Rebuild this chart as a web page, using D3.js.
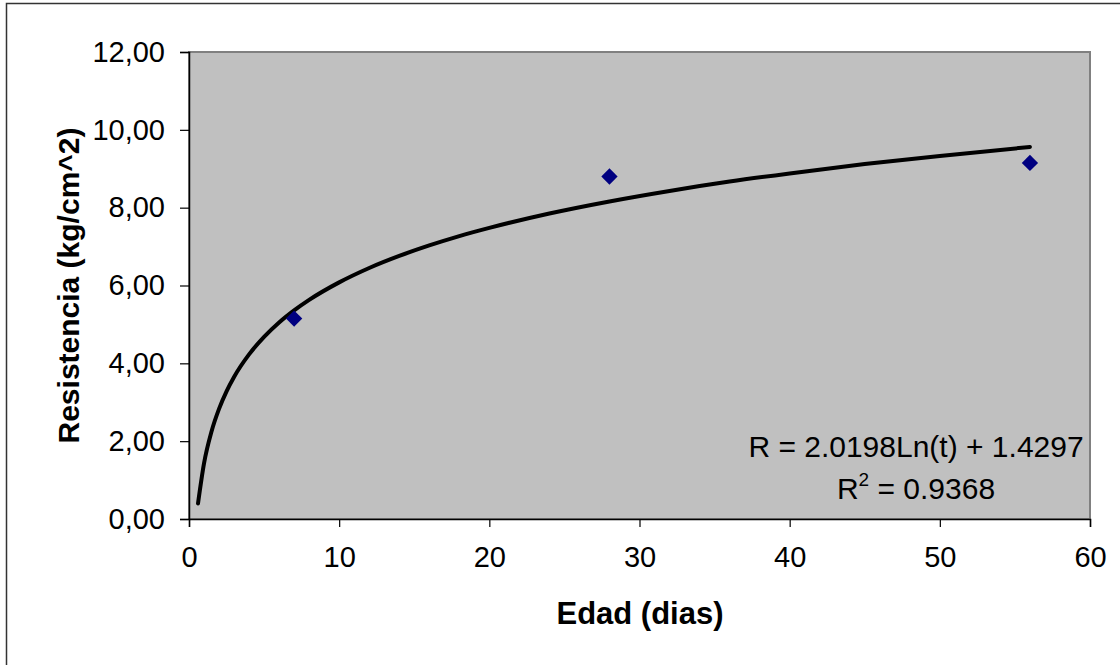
<!DOCTYPE html>
<html><head><meta charset="utf-8">
<script src="https://cdn.jsdelivr.net/npm/d3@7"></script>
<style>html,body{margin:0;padding:0;background:#fff;}svg{display:block;}</style>
</head><body>
<script>
// Observed data (edad en días, resistencia)
const edad = [7, 28, 56];
const resistencia = [5.15, 8.8, 9.15];
// Trendline points (logarithmic trend)
const trendT = [0.6, 1, 1.5, 2, 2.5, 3, 4, 5, 6, 7, 8, 10, 12, 14, 16, 18, 20, 24, 28, 32, 36, 40, 45, 50, 56];
const trendR = [0.40, 1.43, 2.25, 2.83, 3.28, 3.65, 4.23, 4.68, 5.05, 5.36, 5.63, 6.08, 6.45, 6.76, 7.03, 7.27, 7.48, 7.85, 8.16, 8.43, 8.67, 8.88, 9.12, 9.33, 9.56];
const xTicks = [0, 10, 20, 30, 40, 50, 60];
const yTicks = [0, 2, 4, 6, 8, 10, 12];
const yTickLabels = ["0,00", "2,00", "4,00", "6,00", "8,00", "10,00", "12,00"];
const eqLine1 = "R = 2.0198Ln(t) + 1.4297";
const r2Value = "0.9368";

const W = 1120, H = 665;
const L = 189, R = 1090, T = 52, B = 519;
const svg = d3.select("body").append("svg").attr("width", W).attr("height", H)
  .style("font-family", "'Liberation Sans', Arial, sans-serif");

svg.append("rect").attr("x", 6.5).attr("y", 3.5).attr("width", 1200).attr("height", 800)
  .attr("fill", "#fff").attr("stroke", "#333").attr("stroke-width", 1.5);

const x = d3.scaleLinear().domain([0, 60]).range([L, R]);
const y = d3.scaleLinear().domain([0, 12]).range([B, T]);

svg.append("rect").attr("x", L).attr("y", T).attr("width", R - L).attr("height", B - T)
  .attr("fill", "#c0c0c0").attr("stroke", "#808080").attr("stroke-width", 2);

const xAxis = svg.append("g").attr("transform", `translate(0,${B})`)
  .call(d3.axisBottom(x).tickValues(xTicks).tickSize(8).tickPadding(19).tickFormat(d3.format("d")));
const yAxis = svg.append("g").attr("transform", `translate(${L},0)`)
  .call(d3.axisLeft(y).tickValues(yTicks).tickSize(9).tickPadding(15).tickFormat((d, i) => yTickLabels[i]));
[xAxis, yAxis].forEach(a => {
  a.selectAll("path").attr("stroke", "#000").attr("stroke-width", 1.5);
  a.selectAll("line").attr("stroke", "#000").attr("stroke-width", 1.2);
  a.selectAll("text").attr("fill", "#000").style("font-size", "29px")
    .style("font-family", "'Liberation Sans', Arial, sans-serif");
});

const line = d3.line().x((d, i) => x(trendT[i])).y((d, i) => y(trendR[i])).curve(d3.curveMonotoneX);
svg.append("path").datum(trendR).attr("d", line).attr("fill", "none")
  .attr("stroke", "#000").attr("stroke-width", 4).attr("stroke-linecap", "round");

const sym = d3.symbol().type(d3.symbolDiamond2).size(170);
svg.selectAll(".pt").data(edad).enter().append("path")
  .attr("transform", (d, i) => `translate(${x(d)},${y(resistencia[i])})`)
  .attr("d", sym).attr("fill", "#000080");

svg.append("text").attr("x", 916).attr("y", 457).attr("text-anchor", "middle")
  .style("font-size", "30px").text(eqLine1);
const t2 = svg.append("text").attr("x", 916).attr("y", 499).attr("text-anchor", "middle")
  .style("font-size", "30px");
t2.append("tspan").text("R");
t2.append("tspan").attr("dy", -13).style("font-size", "19px").text("2");
t2.append("tspan").attr("dy", 13).text(" = " + r2Value);

svg.append("text").attr("x", 640).attr("y", 624).attr("text-anchor", "middle")
  .style("font-size", "31px").style("font-weight", "bold").text("Edad (dias)");
svg.append("text").attr("transform", `translate(79,${(T + B) / 2}) rotate(-90)`)
  .attr("text-anchor", "middle").style("font-size", "30px").style("font-weight", "bold")
  .text("Resistencia (kg/cm^2)");
</script>
</body></html>
